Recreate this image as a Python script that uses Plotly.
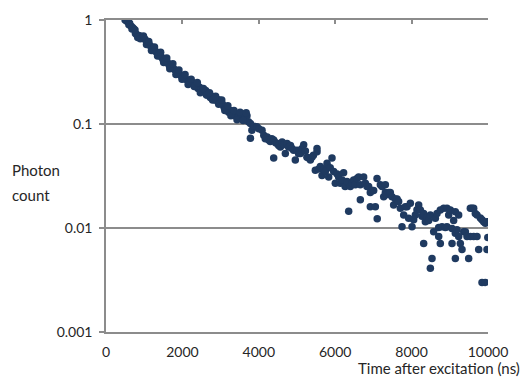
import plotly.graph_objects as go

time_ns = [500, 540, 580, 620, 660, 700, 730, 770, 810, 850, 890, 930, 970, 1010, 1050, 1090, 1130,
           1170, 1210, 1250, 1290, 1330, 1370, 1410, 1450, 1490, 1530, 1570, 1610, 1650, 1690, 1730,
           1770, 1810, 1850, 1890, 1930, 1970, 2010, 2050, 2090, 2130, 2170, 2210, 2250, 2290, 2330,
           2370, 2410, 2450, 2490, 2530, 2570, 2610, 2650, 2690, 2730, 2770, 2810, 2850, 2890, 2930,
           2970, 3010, 3050, 3090, 3130, 3170, 3210, 3250, 3290, 3330, 3370, 3410, 3450, 3490, 3530,
           3570, 3610, 3650, 3690, 3730, 3780, 3780, 3820, 3870, 3950, 4000, 4085, 4130, 4170, 4220,
           4260, 4300, 4340, 4390, 4390, 4440, 4480, 4520, 4565, 4610, 4650, 4695, 4740, 4780, 4830,
           4870, 4910, 4956, 5000, 5040, 5090, 5130, 5175, 5220, 5260, 5305, 5350, 5390, 5430, 5480,
           5524, 5524, 5570, 5611, 5655, 5700, 5742, 5786, 5830, 5870, 5916, 5960, 6003, 6050, 6090,
           6134, 6180, 6220, 6260, 6310, 6353, 6396, 6440, 6483, 6527, 6571, 6614, 6658, 6658, 6745,
           6790, 6832, 6876, 6919, 6919, 6964, 7007, 7051, 7095, 7100, 7182, 7226, 7269, 7313, 7313,
           7357, 7400, 7443, 7487, 7530, 7574, 7620, 7661, 7705, 7749, 7793, 7836, 7880, 7923, 7967,
           8011, 8054, 8098, 8141, 8185, 8229, 8272, 8316, 8316, 8360, 8403, 8447, 8491, 8491, 8534,
           8578, 8622, 8665, 8709, 8709, 8752, 8752, 8796, 8840, 8883, 8927, 8927, 8971, 9014, 9058,
           9058, 9101, 9145, 9145, 9145, 9189, 9232, 9232, 9276, 9320, 9364, 9407, 9450, 9494, 9538,
           9538, 9581, 9625, 9625, 9668, 9712, 9712, 9756, 9800, 9843, 9843, 9887, 9930, 9930, 9974,
           9974, 9995,
           # extra points across the thickness of the early band
           600, 680, 760, 830, 900, 980, 1060, 1120, 1190, 1270, 1350, 1430, 1510, 1590, 1670,
           1750, 1830, 1910, 1990, 2070, 2150, 2230, 2310, 2390, 2470, 2550, 2630, 2710, 2790,
           2870, 2950, 3030, 3110, 3190, 3270, 3350, 3430, 3510, 3590, 3670]

photon_count = [1.0, 0.98, 0.95, 0.93, 0.87, 0.84, 0.82, 0.74, 0.72, 0.71, 0.70, 0.68, 0.67, 0.66, 0.63,
                0.60, 0.58, 0.56, 0.54, 0.53, 0.50, 0.49, 0.47, 0.46, 0.44, 0.42, 0.41, 0.40, 0.39, 0.37,
                0.36, 0.355, 0.34, 0.33, 0.32, 0.31, 0.30, 0.29, 0.28, 0.29, 0.27, 0.265, 0.255, 0.26,
                0.25, 0.245, 0.235, 0.24, 0.22, 0.225, 0.215, 0.21, 0.205, 0.21, 0.19, 0.195, 0.18,
                0.185, 0.175, 0.17, 0.175, 0.165, 0.17, 0.16, 0.155, 0.145, 0.14, 0.145, 0.13, 0.135,
                0.125, 0.13, 0.12, 0.125, 0.118, 0.125, 0.12, 0.115, 0.125, 0.118, 0.12, 0.105, 0.101,
                0.073, 0.087, 0.095, 0.094, 0.09, 0.087, 0.078, 0.072, 0.075, 0.07, 0.068, 0.072, 0.07,
                0.047, 0.066, 0.065, 0.062, 0.06, 0.067, 0.063, 0.052, 0.065, 0.06, 0.062, 0.058, 0.056,
                0.045, 0.056, 0.052, 0.052, 0.058, 0.063, 0.055, 0.048, 0.047, 0.045, 0.048, 0.05, 0.036,
                0.054, 0.058, 0.037, 0.039, 0.032, 0.037, 0.035, 0.042, 0.031, 0.038, 0.047, 0.035, 0.027,
                0.033, 0.031, 0.027, 0.029, 0.034, 0.025, 0.028, 0.0145, 0.025, 0.027, 0.029, 0.026, 0.03,
                0.031, 0.026, 0.0187, 0.031, 0.027, 0.025, 0.025, 0.022, 0.016, 0.023, 0.023, 0.016, 0.03,
                0.0123, 0.026, 0.025, 0.02, 0.022, 0.026, 0.021, 0.022, 0.022, 0.02, 0.0166, 0.019, 0.019,
                0.018, 0.0155, 0.0103, 0.0133, 0.016, 0.016, 0.0124, 0.0173, 0.0103, 0.012, 0.0133, 0.015,
                0.0166, 0.0149, 0.013, 0.0138, 0.0071, 0.0115, 0.0128, 0.0118, 0.0133, 0.0041, 0.0051,
                0.0092, 0.0124, 0.0138, 0.0101, 0.0083, 0.0149, 0.0071, 0.0103, 0.0155, 0.0101, 0.0155,
                0.0103, 0.0133, 0.0149, 0.0099, 0.0071, 0.0118, 0.0143, 0.0089, 0.0051, 0.0096, 0.0133,
                0.0083, 0.0071, 0.0062, 0.0092, 0.0092, 0.0083, 0.0051, 0.0155, 0.0083, 0.0155, 0.0155,
                0.0083, 0.0138, 0.0133, 0.0083, 0.0062, 0.0125, 0.012, 0.003, 0.0115, 0.0111, 0.003,
                0.0115, 0.0062, 0.0081,
                0.90, 0.82, 0.80, 0.68, 0.66, 0.70, 0.58, 0.62, 0.51, 0.55, 0.45, 0.49, 0.39, 0.43, 0.34,
                0.38, 0.30, 0.33, 0.27, 0.30, 0.24, 0.27, 0.23, 0.25, 0.20, 0.22, 0.19, 0.20, 0.17,
                0.185, 0.155, 0.17, 0.135, 0.15, 0.12, 0.135, 0.11, 0.13, 0.108, 0.128]

x_ticks = [0, 2000, 4000, 6000, 8000, 10000]
x_tick_labels = ["0", "2000", "4000", "6000", "8000", "10000"]
y_ticks = [0.001, 0.01, 0.1, 1]
y_tick_labels = ["0.001", "0.01", "0.1", "1"]

GRID = "#8c8c8c"
FONT = "Lato"
TXT = "#262626"

fig = go.Figure()
fig.add_trace(go.Scatter(x=time_ns, y=photon_count, mode="markers",
                         marker=dict(size=7.5, color="#1f3a60", line=dict(width=0)),
                         showlegend=False, hoverinfo="skip"))
# invisible trace to make the top axis render
fig.add_trace(go.Scatter(x=[x_ticks[0]], y=[y_ticks[-1]], xaxis="x2", mode="markers",
                         marker=dict(size=1, opacity=0), showlegend=False, hoverinfo="skip"))

fig.update_layout(
    width=525, height=386,
    margin=dict(l=106, r=37, t=20, b=54),
    paper_bgcolor="white", plot_bgcolor="white",
    font=dict(family=FONT, size=13, color=TXT),
    xaxis=dict(range=[0, 10000], tickvals=x_ticks, ticktext=x_tick_labels,
               showgrid=False, zeroline=False, showline=True, linecolor=GRID, linewidth=1.5,
               ticks="", ticklabelstandoff=6, tickfont=dict(size=14, color=TXT)),
    xaxis2=dict(range=[0, 10000], overlaying="x", side="top", matches="x", tickvals=x_ticks,
                showticklabels=False, showgrid=False, zeroline=False, showline=True,
                linecolor=GRID, linewidth=1.5, ticks="inside", ticklen=4, tickcolor=GRID,
                tickwidth=1.5),
    yaxis=dict(type="log", range=[-3, 0], tickvals=y_ticks, ticktext=y_tick_labels,
               showgrid=True, gridcolor=GRID, gridwidth=1.5, zeroline=False,
               showline=True, linecolor=GRID, linewidth=1.5, ticks="outside", ticklen=5,
               tickcolor=GRID, tickwidth=1.5, ticklabelstandoff=4,
               tickfont=dict(size=14, color=TXT)),
    annotations=[
        dict(text="Photon", xref="paper", yref="paper", x=-0.252, y=0.519,
             xanchor="left", yanchor="middle", showarrow=False,
             font=dict(family=FONT, size=15, color=TXT)),
        dict(text="count", xref="paper", yref="paper", x=-0.252, y=0.439,
             xanchor="left", yanchor="middle", showarrow=False,
             font=dict(family=FONT, size=15, color=TXT)),
        dict(text="Time after excitation (ns)", xref="paper", yref="paper", x=1.088, y=-0.114,
             xanchor="right", yanchor="middle", showarrow=False,
             font=dict(family=FONT, size=15, color=TXT)),
    ],
)

fig.write_html("out.html", config={"displayModeBar": False},
               post_script="document.body.style.margin='0';")
